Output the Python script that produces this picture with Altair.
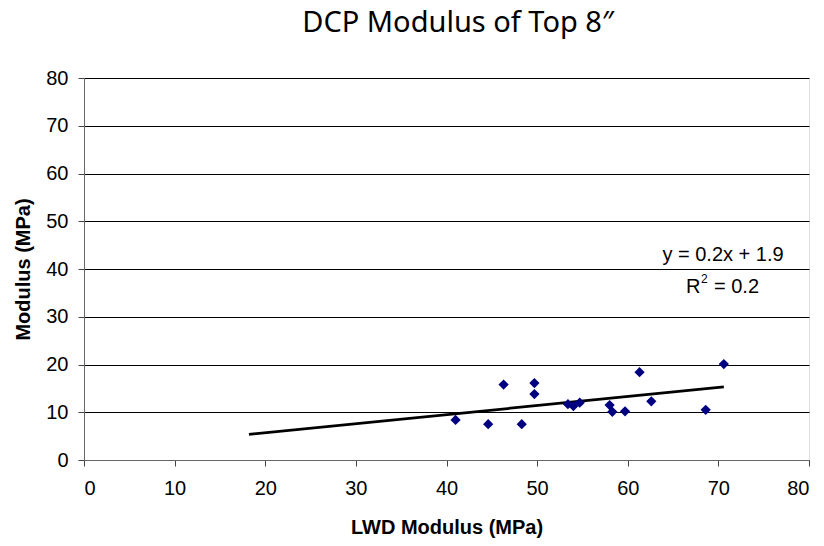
import altair as alt
import pandas as pd

# LWD modulus vs DCP modulus (top 8 inches), MPa
lwd_modulus = [41.0, 44.6, 46.3, 48.3, 49.7, 49.7, 53.4, 54.0, 54.7,
               58.0, 58.3, 59.7, 61.3, 62.6, 68.6, 70.6]
dcp_modulus = [8.4, 7.5, 15.8, 7.5, 16.1, 13.8, 11.7, 11.3, 12.0,
               11.5, 10.1, 10.2, 18.4, 12.3, 10.5, 20.1]

# linear trendline
slope = 0.19
intercept = 1.9
r_squared = 0.2
trend_x = [18.2, 70.6]
trend_y = [slope * v + intercept for v in trend_x]

x_ticks = [0, 10, 20, 30, 40, 50, 60, 70, 80]
y_ticks = [0, 10, 20, 30, 40, 50, 60, 70, 80]

points = pd.DataFrame({"lwd": lwd_modulus, "dcp": dcp_modulus})
trend = pd.DataFrame({"lwd": trend_x, "dcp": trend_y})

W, H = 725, 382
LABEL_FONT = "Liberation Sans"
FS = 20

x_scale = alt.Scale(domain=[0, 80], nice=False, zero=False)
y_scale = alt.Scale(domain=[0, 80], nice=False, zero=False)

x_axis = alt.Axis(values=x_ticks, title="LWD Modulus (MPa)", grid=False,
                  labelFontSize=FS, labelFont=LABEL_FONT, labelColor="black",
                  titleFontSize=FS, titleFont=LABEL_FONT, titleFontWeight="bold",
                  titleColor="black", titlePadding=19, labelPadding=12,
                  tickSize=6, tickColor="#444444", domainColor="#666666")
y_axis = alt.Axis(values=y_ticks, title="Modulus (MPa)", grid=True,
                  gridColor="black", gridWidth=1, gridOpacity=1,
                  labelFontSize=FS, labelFont=LABEL_FONT, labelColor="black",
                  titleFontSize=FS, titleFont=LABEL_FONT, titleFontWeight="bold",
                  titleColor="black", titlePadding=12, labelPadding=10,
                  tickSize=6, tickColor="#444444", domainColor="#666666")

scatter = alt.Chart(points).mark_point(
    shape="diamond", filled=True, color="#000080", size=105, opacity=1
).encode(
    x=alt.X("lwd:Q", scale=x_scale, axis=x_axis),
    y=alt.Y("dcp:Q", scale=y_scale, axis=y_axis),
)

line = alt.Chart(trend).mark_line(color="black", strokeWidth=2.7).encode(
    x=alt.X("lwd:Q", scale=x_scale),
    y=alt.Y("dcp:Q", scale=y_scale),
)

eq_text = f"y = {slope:.1f}x + {intercept:.1f}"
r2_value_text = f"= {r_squared:.1f}"


def text_layer(s, x, y, size=FS, align="center", font=LABEL_FONT):
    return alt.Chart(pd.DataFrame({"t": [s]})).mark_text(
        font=font, fontSize=size, color="black", align=align, baseline="middle"
    ).encode(x=alt.value(x), y=alt.value(y), text="t:N")


equation = text_layer(eq_text, 639, 177)
r_letter = text_layer("R", 602, 209, align="left")
r_sup = text_layer("2", 617, 201, size=12, align="left")
r_value = text_layer(r2_value_text, 630, 209, align="left")

title = text_layer("DCP Modulus of Top 8\u2033", 374, -55, size=29, font="Noto Sans")

chart = alt.layer(line, scatter, equation, r_letter, r_sup, r_value, title).properties(
    width=W, height=H,
    autosize=alt.AutoSizeParams(type="none"),
    padding={"left": 84, "top": 78, "right": 15, "bottom": 86},
).configure_view(stroke=None).configure(background="white")

chart.save("out.html", embed_options={"renderer": "svg", "actions": False})
